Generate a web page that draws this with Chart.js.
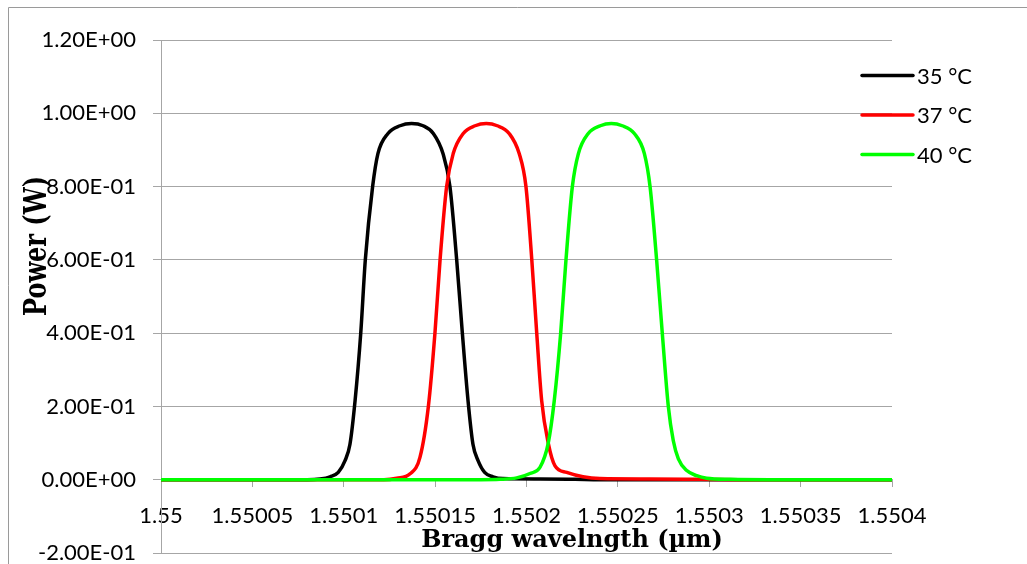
<!DOCTYPE html>
<html>
<head>
<meta charset="utf-8">
<title>Bragg wavelength vs power</title>
<script src="https://cdn.jsdelivr.net/npm/chart.js"></script>
<style>
  html, body { margin: 0; padding: 0; background: #fff; }
  #wrap { width: 1027px; height: 564px; }
</style>
</head>
<body>
<div id="wrap"><canvas id="braggChart" width="1027" height="564"></canvas></div>
<script>
// Values
const seriesLabels = ['35 °C', '37 °C', '40 °C'];

const wl35 = [1.55, 1.55008, 1.550087, 1.5500925, 1.550097, 1.5501007, 1.5501034, 1.5501062, 1.5501093, 1.5501118,
  1.5501158, 1.5501187, 1.5501242, 1.5501308, 1.5501371, 1.5501434, 1.550149, 1.5501543, 1.5501581, 1.5501618,
  1.5501649, 1.550168, 1.5501707, 1.5501735, 1.5501771, 1.5501817, 1.5501871, 1.5502074, 1.5502265, 1.5502402, 1.5504];
const pw35 = [0, 0, 0.002, 0.008, 0.02, 0.052, 0.097, 0.216, 0.4, 0.6,
  0.8, 0.89, 0.945, 0.966, 0.972, 0.966, 0.945, 0.89, 0.8, 0.6,
  0.4, 0.216, 0.097, 0.052, 0.02, 0.008, 0.003, 0.002, 0.001, 0, 0];

const wl37 = [1.55, 1.550122, 1.550129, 1.5501363, 1.5501417, 1.5501463, 1.5501499, 1.5501527, 1.5501563, 1.5501599,
  1.5501654, 1.5501719, 1.550178, 1.550184, 1.5501905, 1.550196, 1.5501997, 1.5502029, 1.5502056, 1.5502083,
  1.5502119, 1.5502156, 1.550222, 1.5502309, 1.5502402, 1.550267, 1.5502949, 1.5503168, 1.5504];
const pw37 = [0, 0, 0.004, 0.016, 0.061, 0.2, 0.4, 0.6, 0.8, 0.89,
  0.945, 0.966, 0.972, 0.966, 0.945, 0.89, 0.8, 0.6, 0.4, 0.216,
  0.10, 0.038, 0.02, 0.008, 0.003, 0.002, 0.001, 0, 0];

const wl40 = [1.55, 1.550175, 1.5501855, 1.5501946, 1.5502019, 1.5502074, 1.5502119, 1.5502152, 1.5502187, 1.5502216,
  1.5502251, 1.5502284, 1.5502338, 1.5502404, 1.5502464, 1.5502524, 1.550259, 1.5502645, 1.5502676, 1.5502712,
  1.5502743, 1.5502776, 1.5502803, 1.5502831, 1.5502877, 1.5502931, 1.5502986, 1.5503114, 1.5503332, 1.5504];
const pw40 = [0, 0, 0.001, 0.005, 0.017, 0.034, 0.10, 0.216, 0.4, 0.6,
  0.8, 0.89, 0.945, 0.966, 0.972, 0.966, 0.945, 0.89, 0.8, 0.6,
  0.4, 0.2, 0.107, 0.057, 0.025, 0.011, 0.004, 0.001, 0, 0];

const xTicks = [1.55, 1.55005, 1.5501, 1.55015, 1.5502, 1.55025, 1.5503, 1.55035, 1.5504];
const yTicks = [-0.2, 0, 0.2, 0.4, 0.6, 0.8, 1.0, 1.2];

const xTitle = 'Bragg wavelngth (µm)';
const yTitle = 'Power (W)';

const gridColor = '#a6a6a6';

// Excel style scientific label, e.g. 1.20E+00
function sciLabel(v) {
  const parts = Number(v).toExponential(2).split('e');
  const sign = parts[1][0];
  let digits = parts[1].slice(1);
  if (digits.length < 2) digits = '0' + digits;
  return parts[0] + 'E' + sign + digits;
}

function toPoints(xs, ys) {
  return xs.map((x, i) => ({ x: x, y: ys[i] }));
}

// frame, axis titles and legend drawn on the canvas
const decorPlugin = {
  id: 'decor',
  beforeDraw(chart) {
    const ctx = chart.ctx;
    ctx.save();
    ctx.fillStyle = '#fff';
    ctx.fillRect(0, 0, chart.width, chart.height);
    ctx.strokeStyle = '#9a9a9a';
    ctx.lineWidth = 1;
    ctx.beginPath();
    ctx.moveTo(8.5, chart.height);
    ctx.lineTo(8.5, 7.5);
    ctx.lineTo(chart.width, 7.5);
    ctx.stroke();
    ctx.restore();
  },
  afterDraw(chart) {
    const ctx = chart.ctx;
    ctx.save();
    ctx.fillStyle = '#000';
    ctx.font = 'bold 24px "DejaVu Serif"';
    ctx.textAlign = 'center';
    ctx.textBaseline = 'alphabetic';
    ctx.fillText(xTitle, 572, 547);

    ctx.save();
    ctx.translate(46, 246);
    ctx.rotate(-Math.PI / 2);
    ctx.scale(1, 1.35);
    ctx.fillText(yTitle, 0, 0);
    ctx.restore();

    // legend
    ctx.font = '22px Lato';
    ctx.textAlign = 'left';
    ctx.textBaseline = 'middle';
    chart.data.datasets.forEach((ds, i) => {
      const y = 75.5 + i * 39.5;
      ctx.strokeStyle = ds.borderColor;
      ctx.lineWidth = 3.5;
      ctx.lineCap = 'round';
      ctx.beginPath();
      ctx.moveTo(862, y);
      ctx.lineTo(913, y);
      ctx.stroke();
      ctx.fillText(ds.label, 917, y + 1);
    });
    ctx.restore();
  }
};

Chart.defaults.font.family = 'Lato';
Chart.defaults.font.size = 22;
Chart.defaults.color = '#000';

const ctx = document.getElementById('braggChart').getContext('2d');
new Chart(ctx, {
  type: 'line',
  data: {
    datasets: [
      { label: seriesLabels[0], data: toPoints(wl35, pw35), borderColor: '#000000', order: 3 },
      { label: seriesLabels[1], data: toPoints(wl37, pw37), borderColor: '#ff0000', order: 2 },
      { label: seriesLabels[2], data: toPoints(wl40, pw40), borderColor: '#00ff00', order: 1 }
    ]
  },
  options: {
    responsive: false,
    animation: false,
    devicePixelRatio: 1,
    layout: { padding: { left: 0, right: 135, top: 40, bottom: 11 } },
    elements: {
      line: { borderWidth: 3.5, cubicInterpolationMode: 'monotone', fill: false },
      point: { radius: 0, hoverRadius: 0 }
    },
    plugins: {
      legend: { display: false },
      tooltip: { enabled: false }
    },
    scales: {
      x: {
        type: 'linear',
        position: { y: 0 },
        min: 1.55,
        max: 1.5504,
        afterBuildTicks: (scale) => { scale.ticks = xTicks.map(v => ({ value: v })); },
        afterFit: (scale) => {
          // the axis sits on y = 0 inside the plot, so it takes no room below
          scale.height = 0;
          scale.paddingTop = 0;
          scale.paddingBottom = 0;
        },
        ticks: {
          autoSkip: false,
          maxRotation: 0,
          padding: 16,
          callback: (v) => String(Number(v.toFixed(5)))
        },
        grid: { drawOnChartArea: false, drawTicks: true, tickLength: 7, color: gridColor },
        border: { display: true, color: gridColor }
      },
      y: {
        type: 'linear',
        min: -0.2,
        max: 1.2,
        afterBuildTicks: (scale) => { scale.ticks = yTicks.map(v => ({ value: v })); },
        afterFit: (scale) => {
          scale.width = 161;
          scale.paddingTop = 11;
          scale.paddingBottom = 11;
        },
        ticks: {
          padding: 17,
          font: { size: 22, lineHeight: 1 },
          callback: (v) => sciLabel(v)
        },
        grid: { color: gridColor, tickLength: 8 },
        border: { display: true, color: gridColor }
      }
    }
  },
  plugins: [decorPlugin]
});
</script>
</body>
</html>
